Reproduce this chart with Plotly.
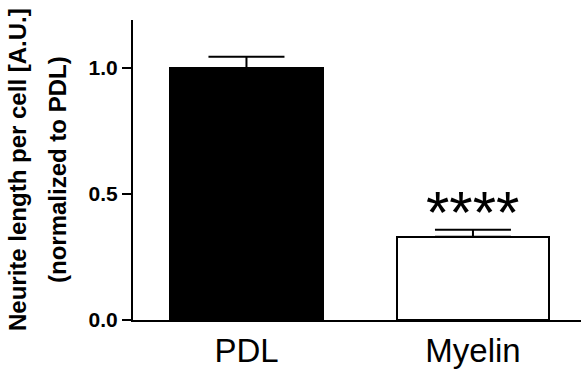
import plotly.graph_objects as go

categories = ["PDL", "Myelin"]
means = [1.0, 0.33]
sem = [0.044, 0.028]
significance = ["", "****"]
y_ticks = [0.0, 0.5, 1.0]
y_tick_labels = ["0.0", "0.5", "1.0"]
y_title_lines = ["Neurite length per cell [A.U.]", "(normalized to PDL)"]

FONT = "Liberation Sans, Arial, sans-serif"
L, R, T, B = 133, 0, 20, 59
W, H = 581, 379
PW = W - L - R

fig = go.Figure()
fig.add_trace(go.Bar(
    x=categories,
    y=means,
    width=0.675,
    marker=dict(color=["black", "white"], line=dict(color="black", width=2)),
    error_y=dict(type="data", array=sem, arrayminus=[0, 0], symmetric=False,
                 color="black", thickness=2, width=38),
    showlegend=False,
))

for c, m, e, s in zip(categories, means, sem, significance):
    if s:
        fig.add_annotation(x=c, y=m + e, text=s, showarrow=False,
                           yanchor="bottom", yshift=-18,
                           font=dict(family=FONT, size=60, color="black"))

# y-axis title as two rotated lines
for px_center, line in zip([17, 57], y_title_lines):
    fig.add_annotation(xref="paper", yref="paper",
                       x=-(L - px_center) / PW, y=0.5,
                       xanchor="center", yanchor="middle",
                       text=line, textangle=-90, showarrow=False,
                       font=dict(family=FONT, size=24, color="black", weight="bold"))

fig.update_layout(
    width=W, height=H,
    margin=dict(l=L, r=R, t=T, b=B, autoexpand=False),
    plot_bgcolor="white", paper_bgcolor="white",
    bargap=0,
    font=dict(family=FONT, color="black"),
)
fig.update_xaxes(
    range=[-0.501, 1.477], automargin=False,
    showline=True, linecolor="black", linewidth=2,
    ticks="", showgrid=False, zeroline=False,
    tickfont=dict(family=FONT, size=33, color="black"),
)
fig.update_yaxes(
    range=[0, 1.19], automargin=False,
    tickvals=y_ticks, ticktext=y_tick_labels,
    showline=True, linecolor="black", linewidth=2,
    ticks="outside", ticklen=9, tickwidth=2, tickcolor="black",
    showgrid=False, zeroline=False,
    tickfont=dict(family=FONT, size=21, color="black", weight="bold"),
)

fig.write_html("out.html", config={"displayModeBar": False},
               post_script="document.body.style.margin='0';")
